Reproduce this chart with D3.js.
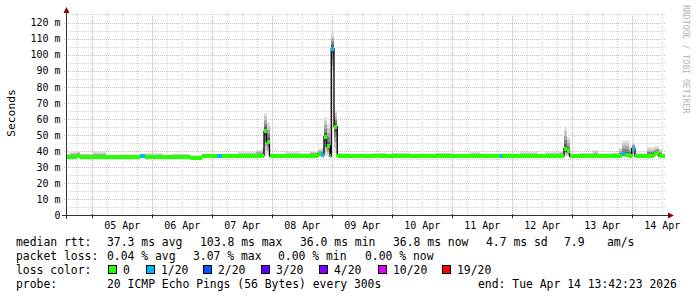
<!DOCTYPE html>
<html><head><meta charset="utf-8">
<script src="https://cdn.jsdelivr.net/npm/d3@7"></script>
<style>
body{margin:0;background:#fff}
svg{display:block}
text{font-family:"DejaVu Sans Mono",monospace;fill:#000}
</style>
</head><body><svg id="c" width="697" height="297"></svg>
<script>
// ---- data ----
const startTime = new Date(2026,3,4,13,42,23);
const endTime   = new Date(2026,3,14,13,42,23);
const lastHour  = 239.6;
// sample start, in hours after startTime; each sample lasts until the next one
const sampleHours = [0,1.6,4.4,5.6,10.8,16,21.6,28,29.6,31.6,32.8,38.8,42.4,49.6,54.4,60.4,62.4,68.8,76,78.4,
  79.2,80.2,81.4,87.6,93.6,97.6,100.8,102,103.2,104.2,105.6,106.1,107.2,108.5,113.6,121.6,123.2,128,130.4,137.6,
  141.6,147.6,154.4,161.6,165.6,173.6,174.4,180,181.6,188.8,191.6,197.6,199.2,200.2,201.4,205.6,210.8,212.8,218.4,221.2,
  222.4,223.6,225.2,226.3,227.6,232.4,235.2,235.8,237,238.4];
const medianMs = [36.3,36.3,37.3,36.2,36.2,36.2,36.2,36.2,36.8,36.1,36.2,36.2,36.3,35.9,36.8,36.9,36.9,37.0,37.0,37.2,
  52.5,46.0,37.0,37.0,37.0,37.0,38.3,37.8,49.0,43.2,37.0,103.8,55.2,37.0,37.0,36.7,37.0,36.7,37.0,37.0,
  36.8,37.0,37.0,37.1,36.8,37.0,37.0,36.7,37.0,36.8,37.0,37.1,41.5,39.8,37.0,37.0,37.0,37.0,37.0,37.2,
  38.0,37.5,37.3,41.5,37.0,37.0,38.0,39.0,37.2,37.0];
const smokeLoMs = [35.9,35.9,36.6,35.9,35.9,35.9,35.9,35.9,36.3,35.8,35.9,35.9,35.9,35.6,36.4,36.5,36.5,36.6,36.6,36.7,
  37.0,37.5,36.6,36.6,36.6,36.6,37.0,37.0,37.0,37.0,36.6,86.0,39.0,36.6,36.6,36.3,36.6,36.3,36.6,36.6,
  36.4,36.6,36.6,36.7,36.4,36.6,36.6,36.3,36.6,36.4,36.6,36.7,37.0,37.0,36.6,36.6,36.6,36.6,36.6,36.7,
  37.0,37.0,36.8,37.5,36.6,36.6,37.0,37.0,36.7,36.6];
const smokeHiMs = [38.5,39.8,40.0,38.5,39.2,37.8,38.3,37.5,38.5,38.8,38.9,37.8,38.4,37.6,38.0,38.5,38.5,39.5,40.8,42.0,
  64.0,58.0,38.5,39.5,38.8,39.8,41.5,42.0,61.0,57.0,39.0,113.7,65.6,38.8,38.5,38.8,39.0,38.3,39.0,38.4,
  38.2,39.1,38.4,39.2,38.2,38.6,38.8,38.4,39.3,38.3,39.5,40.0,55.0,49.0,38.5,39.0,40.5,38.6,39.0,42.0,
  46.5,47.0,43.0,45.5,38.8,42.5,43.0,43.0,41.5,38.5];
const lossPings = [0,0,0,0,0,0,0,0,1,0,0,0,0,0,0,1,0,0,0,0,
  0,0,0,0,0,0,0,1,0,0,0,1,0,0,0,0,0,0,0,0,
  0,0,0,0,0,1,0,0,0,0,0,0,0,0,0,0,0,0,0,0,
  1,0,0,1,0,0,0,0,0,0];

const yTicks = [0,10,20,30,40,50,60,70,80,90,100,110,120];
const lossLevels = [0,1,2,3,4,10,19];
const lossLabels = ["0","1/20","2/20","3/20","4/20","10/20","19/20"];
const lossColors = ["#26ff00","#00b8ff","#0059ff","#5e00ff","#7e00ff","#dd00ff","#ff0000"];
const legendRow1 = [["median rtt:",16],["37.3 ms avg",107],["103.8 ms max",200],["36.0 ms min",300],["36.8 ms now",393],["4.7 ms sd",486],["7.9",564],["am/s",607]];
const legendRow2 = [["packet loss:",16],["0.04 % avg",107],["3.07 % max",193],["0.00 % min",278],["0.00 % now",365]];
const legendRow4 = [["probe:",16],["20 ICMP Echo Pings (56 Bytes) every 300s",107],["end: Tue Apr 14 13:42:23 2026",478]];

// ---- drawing ----
const svg = d3.select("#c");
const X0 = 66, X1 = 666, YB = 215.5, YT = 13;
const x = d3.scaleTime().domain([startTime,endTime]).range([X0,X1]);
const y = d3.scaleLinear().domain([0,120]).range([YB,22.5]);
const hToDate = h => new Date(startTime.getTime()+h*3600e3);

const gGrid = svg.append("g").attr("shape-rendering","crispEdges");
// minor horizontal grid (5 ms)
for(let v=5; v<=125; v+=10){
  gGrid.append("line").attr("x1",X0).attr("x2",X1).attr("y1",Math.round(y(v))+0.5).attr("y2",Math.round(y(v))+0.5)
    .attr("stroke","#d4d4d4").attr("stroke-dasharray","1,1");
}
// minor vertical grid (6 h)
d3.timeHour.every(6).range(startTime,endTime).forEach(d=>{
  if(d.getHours()===0) return;
  const px = Math.round(x(d))+0.5;
  gGrid.append("line").attr("x1",px).attr("x2",px).attr("y1",YB).attr("y2",YT)
    .attr("stroke","#d4d4d4").attr("stroke-dasharray","1,1");
});
// major horizontal grid
yTicks.forEach(v=>{ if(v===0) return;
  const py = Math.round(y(v))+0.5;
  gGrid.append("line").attr("x1",X0-2).attr("x2",X1).attr("y1",py).attr("y2",py)
    .attr("stroke","#dcb4b4").attr("stroke-dasharray","1,1");
});
// major vertical grid (midnight)
d3.timeDay.range(startTime,endTime).forEach(d=>{
  const px = Math.round(x(d))+0.5;
  gGrid.append("line").attr("x1",px).attr("x2",px).attr("y1",YB+3).attr("y2",YT)
    .attr("stroke","#dcb4b4").attr("stroke-dasharray","1,1");
});

// samples
const samples = sampleHours.map((h,i)=>({
  t0:hToDate(h), t1:hToDate(i+1<sampleHours.length?sampleHours[i+1]:lastHour),
  med:medianMs[i], lo:smokeLoMs[i], hi:smokeHiMs[i], loss:lossPings[i]
}));
const smokeShades = ["#e0e0e0","#c8c8c8","#a8a8a8","#828282","#5a5a5a"];
const gSmoke = svg.append("g").attr("shape-rendering","crispEdges");
samples.forEach(s=>{
  const xa = Math.round(x(s.t0)), xb = Math.round(x(s.t1));
  smokeShades.forEach((c,k)=>{
    const f = 1-k/smokeShades.length;
    const top = y(s.med+(s.hi-s.med)*f), bot = y(s.med-(s.med-s.lo)*f);
    gSmoke.append("rect").attr("x",xa).attr("width",Math.max(1,xb-xa))
      .attr("y",top).attr("height",Math.max(0,bot-top)).attr("fill",c);
  });
});
// median step line
const stepPts = samples.map(s=>[s.t0,s.med]).concat([[hToDate(lastHour),samples[samples.length-1].med]]);
svg.append("path").attr("d",d3.line().x(d=>x(d[0])).y(d=>y(d[1])).curve(d3.curveStepAfter)(stepPts))
  .attr("fill","none").attr("stroke","#000").attr("stroke-width",1.3);
// loss coloured median band
const lossColor = l => { let c=lossColors[0]; lossLevels.forEach((lv,i)=>{ if(l>=lv) c=lossColors[i]; }); return c; };
svg.append("g").attr("shape-rendering","crispEdges").selectAll("rect").data(samples).join("rect")
  .attr("x",d=>Math.round(x(d.t0))).attr("width",d=>Math.max(1,Math.round(x(d.t1))-Math.round(x(d.t0))))
  .attr("y",d=>Math.round(y(d.med))-2).attr("height",4).attr("fill",d=>lossColor(d.loss));

// axes
const gAx = svg.append("g").attr("shape-rendering","crispEdges");
gAx.append("line").attr("x1",62).attr("x2",669).attr("y1",YB).attr("y2",YB).attr("stroke","#333");
gAx.append("line").attr("x1",66.5).attr("x2",66.5).attr("y1",219).attr("y2",11).attr("stroke","#333");
d3.timeDay.range(startTime,endTime).forEach(d=>{
  const px = Math.round(x(d))+0.5;
  gAx.append("line").attr("x1",px).attr("x2",px).attr("y1",YB-2).attr("y2",YB+2).attr("stroke","#333");
});
svg.append("path").attr("d","M63.5,13L69.5,13L66.5,7Z").attr("fill","#8b0000");
svg.append("path").attr("d","M668,212.5L668,218.5L674,215.5Z").attr("fill","#8b0000");

const yAxis = d3.axisLeft(y).tickValues(yTicks).tickSize(0).tickPadding(6)
  .tickFormat(v=>v===0?"0":v+" m");
const gy = svg.append("g").attr("transform","translate(66.5,0)").call(yAxis);
gy.select(".domain").remove();
gy.selectAll("text").attr("font-size","10px").attr("font-family","DejaVu Sans Mono").attr("fill","#000");

const noonTicks = d3.timeDay.range(startTime,endTime).map(d=>d3.timeHour.offset(d,12)).filter(d=>d<=endTime);
const xAxis = d3.axisBottom(x).tickValues(noonTicks).tickSize(0).tickPadding(6).tickFormat(d3.timeFormat("%d %b"));
const gx = svg.append("g").attr("transform",`translate(0,${YB})`).call(xAxis);
gx.select(".domain").remove();
gx.selectAll("text").attr("font-size","10px").attr("font-family","DejaVu Sans Mono").attr("fill","#000");

svg.append("text").attr("transform","translate(15,113) rotate(-90)").attr("text-anchor","middle")
  .attr("font-size","11.3px").text("Seconds");
svg.append("text").attr("transform","translate(683,5) rotate(90)").attr("font-size","8.2px")
  .style("fill","#b4b4b4").text("RRDTOOL / TOBI OETIKER");

// legend
const lf = "11.4px";
const row = (items,yy)=>items.forEach(([t,xx])=>svg.append("text").attr("x",xx).attr("y",yy).attr("font-size",lf)
  .attr("xml:space","preserve").text(t));
row(legendRow1,245.8);
row(legendRow2,259.8);
svg.append("text").attr("x",16).attr("y",273.5).attr("font-size",lf).text("loss color:");
const sqX = [108,146,203,261,319,378,442];
lossLabels.forEach((l,i)=>{
  svg.append("rect").attr("x",sqX[i]+0.5).attr("y",265.5).attr("width",8).attr("height",8)
    .attr("fill",lossColors[i]).attr("stroke","#000").attr("shape-rendering","crispEdges");
  svg.append("text").attr("x",sqX[i]+15).attr("y",273.5).attr("font-size",lf).text(l);
});
row(legendRow4,287.5);
</script></body></html>
